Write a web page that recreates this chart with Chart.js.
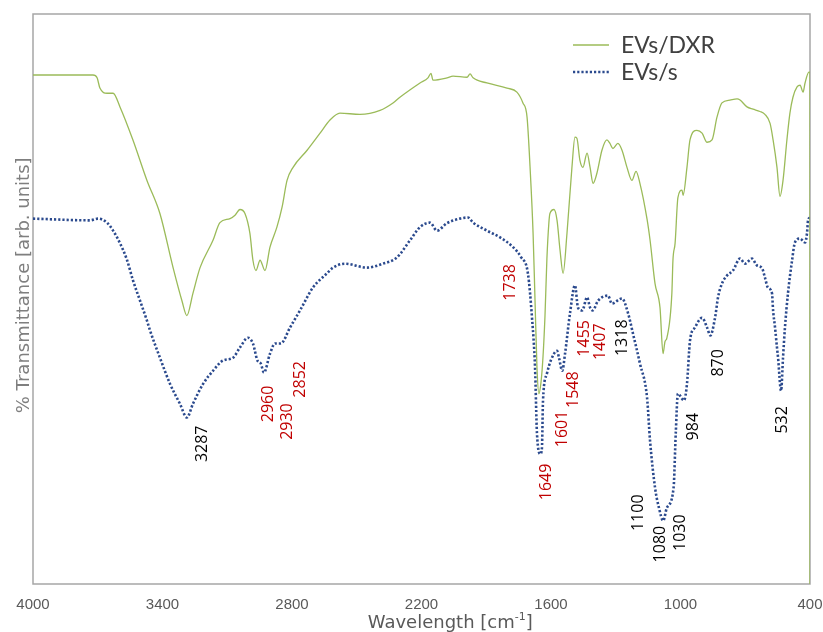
<!DOCTYPE html>
<html>
<head>
<meta charset="utf-8">
<title>FTIR – EVs/DXR vs EVs/s</title>
<script src="https://cdn.jsdelivr.net/npm/chart.js@4.4.1/dist/chart.umd.min.js"></script>
<style>
  html, body { margin: 0; padding: 0; background: #fff; }
  #wrap { width: 823px; height: 632px; position: relative; }
</style>
</head>
<body>
<div id="wrap"><canvas id="ftirChart"></canvas></div>
<script>
// wavenumbers [cm-1] and transmittance [arb. units] for each spectrum
var dxrWavenumber = [4000, 3875, 3722, 3703, 3690, 3657, 3629, 3597, 3537, 3472, 3412, 3351, 3310, 3287, 3259, 3226,
    3166, 3134, 3087, 3064, 3041, 3018, 2995, 2981, 2967, 2948, 2925, 2902, 2870, 2846, 2823, 2795, 2730, 2670, 2624,
    2578, 2485, 2392, 2332, 2300, 2207, 2170, 2156, 2147, 2082, 2054, 1989, 1975, 1961, 1897, 1804, 1758, 1730, 1711,
    1697, 1683, 1674, 1665, 1656, 1646, 1637, 1628, 1619, 1610, 1605, 1586, 1572, 1558, 1544, 1526, 1503, 1489, 1480,
    1466, 1452, 1433, 1419, 1405, 1387, 1364, 1341, 1327, 1313, 1290, 1271, 1248, 1225, 1206, 1188, 1155, 1141, 1118,
    1095, 1081, 1072, 1063, 1040, 1035, 1025, 1012, 993, 988, 970, 956, 924, 900, 877, 854, 831, 808, 771, 738, 724,
    692, 664, 632, 609, 585, 571, 553, 539, 525, 507, 493, 479, 460, 446, 432, 423, 405, 400, 400];
var dxrTransmittance = [89.3, 89.3, 89.3, 88.8, 87.0, 86.1, 86.1, 83.7, 77.9, 70.8, 65.0, 55.5, 49.7, 47.1, 51.0, 55.5,
    60.3, 63.4, 64.1, 64.7, 65.7, 65.0, 61.5, 56.8, 55.0, 56.8, 55.0, 59.1, 62.6, 66.1, 70.8, 73.1, 76.1, 79.1, 81.4,
    82.6, 82.4, 83.1, 84.4, 85.4, 87.9, 88.8, 89.6, 88.4, 88.8, 89.1, 88.9, 89.5, 88.8, 87.9, 87.0, 86.3, 84.4, 81.9,
    73.1, 61.5, 49.7, 38.0, 33.4, 35.5, 39.9, 46.9, 57.0, 63.3, 65.0, 65.7, 63.8, 58.5, 54.5, 61.5, 73.1, 78.4, 78.2,
    74.3, 73.1, 75.6, 73.1, 70.3, 72.1, 76.1, 77.9, 77.3, 76.4, 77.3, 76.1, 73.1, 70.8, 72.4, 70.3, 64.0, 60.3, 52.7,
    48.5, 40.4, 42.5, 43.2, 51.0, 56.8, 59.8, 67.8, 69.1, 68.2, 73.1, 77.9, 79.6, 79.1, 77.5, 77.9, 81.9, 84.4, 84.9, 85.1, 84.9,
    83.7, 83.3, 82.9, 82.4, 80.8, 77.9, 73.1, 68.0, 70.8, 77.9, 82.6, 85.4, 87.2, 87.5, 86.3, 87.9, 89.8, 89.8, 0];

var sWavenumber = [4000, 3736, 3699, 3657, 3629, 3597, 3564, 3537, 3504, 3472, 3458, 3412, 3365, 3319, 3287, 3259,
    3212, 3166, 3120, 3073, 3041, 3004, 2981, 2960, 2945, 2930, 2902, 2879, 2852, 2809, 2763, 2703, 2638, 2610, 2554,
    2453, 2378, 2314, 2253, 2207, 2161, 2128, 2082, 2022, 1985, 1961, 1897, 1836, 1776, 1738, 1707, 1688, 1674, 1665,
    1649, 1642, 1637, 1619, 1601, 1572, 1563, 1548, 1535, 1512, 1489, 1475, 1455, 1433, 1419, 1407, 1382, 1336, 1318,
    1271, 1243, 1220, 1188, 1155, 1141, 1118, 1100, 1080, 1063, 1032, 1022, 1012, 984, 970, 956, 933, 900, 877, 862,
    840, 826, 808, 785, 757, 724, 701, 669, 646, 622, 609, 595, 576, 571, 562, 553, 548, 534, 525, 516, 502, 483, 470,
    446, 423, 414, 409, 400];
var sTransmittance = [64.1, 63.8, 64.1, 63.4, 62.0, 59.8, 56.8, 53.3, 49.7, 46.2, 44.5, 39.7, 35.1, 31.6, 29.2, 31.6,
    35.1, 37.4, 39.2, 39.7, 41.5, 43.2, 42.2, 39.2, 38.7, 37.1, 40.4, 42.2, 42.2, 45.0, 48.0, 52.0, 54.5, 55.5, 56.2,
    55.5, 56.2, 57.3, 60.3, 62.6, 63.4, 62.0, 63.3, 64.1, 64.3, 63.4, 62.0, 60.8, 59.1, 57.3, 54.5, 46.7, 38.0, 26.4,
    22.8, 23.9, 32.2, 36.9, 39.2, 40.9, 39.7, 37.4, 40.4, 47.5, 52.4, 48.5, 48.0, 50.3, 48.5, 48.0, 49.7, 50.6, 49.2,
    50.1, 47.5, 43.9, 38.7, 32.7, 25.1, 16.9, 13.4, 11.1, 13.4, 16.9, 26.4, 33.4, 32.2, 35.1, 42.7, 45.0, 46.7, 45.0, 43.6,
    46.7, 50.3, 52.7, 54.1, 55.0, 57.1, 56.2, 57.1, 55.9, 55.4, 53.8, 52.0, 51.0, 48.0, 45.0, 41.5, 39.7, 33.9, 39.7,
    45.0, 51.0, 56.8, 59.9, 60.6, 59.9, 61.5, 63.8, 64.3];

var tickValues = [4000, 3400, 2800, 2200, 1600, 1000, 400];

// band assignments written next to the EVs/s trace (x in cm-1, y in arb. units)
var peakLabels = [
    { text: '3287', x: 3217, y: 24.6, red: false },
    { text: '2960', x: 2911, y: 31.6, red: true },
    { text: '2930', x: 2823, y: 28.5, red: true },
    { text: '2852', x: 2763, y: 35.9, red: true },
    { text: '1738', x: 1790, y: 52.9, red: true },
    { text: '1649', x: 1623, y: 17.9, red: true },
    { text: '1601', x: 1549, y: 27.2, red: true },
    { text: '1548', x: 1498, y: 34.1, red: true },
    { text: '1455', x: 1447, y: 43.1, red: true },
    { text: '1407', x: 1373, y: 42.5, red: true },
    { text: '1318', x: 1271, y: 43.2, red: false },
    { text: '1100', x: 1197, y: 12.5, red: false },
    { text: '1080', x: 1095, y: 7.0, red: false },
    { text: '1030', x: 998, y: 9.0, red: false },
    { text: '984', x: 942, y: 27.6, red: false },
    { text: '870', x: 826, y: 38.8, red: false },
    { text: '532', x: 530, y: 28.8, red: false }
];

var toPoints = function (xs, ys) {
    return xs.map(function (x, i) { return { x: x, y: ys[i] }; });
};

// frame, legend, peak numbers and axis titles
var decorations = {
    id: 'decorations',
    beforeDatasetsDraw: function (chart) {
        var a = chart.chartArea;
        var ctx = chart.ctx;
        ctx.save();
        ctx.strokeStyle = '#a6a6a6';
        ctx.lineWidth = 1.5;
        ctx.strokeRect(a.left, a.top, a.right - a.left, a.bottom - a.top);
        ctx.restore();
    },
    afterDatasetsDraw: function (chart) {
        var a = chart.chartArea;
        var ctx = chart.ctx;
        var xs = chart.scales.x;
        var ys = chart.scales.y;

        ctx.save();
        ctx.font = '16px "Open Sans"';
        ctx.textAlign = 'center';
        ctx.textBaseline = 'middle';
        peakLabels.forEach(function (p) {
            ctx.save();
            ctx.translate(xs.getPixelForValue(p.x), ys.getPixelForValue(p.y));
            ctx.rotate(-Math.PI / 2);
            ctx.fillStyle = p.red ? '#c00000' : '#000000';
            ctx.fillText(p.text, 0, 0);
            ctx.restore();
        });
        ctx.restore();

        // legend
        ctx.save();
        ctx.font = '23px Lato';
        ctx.textBaseline = 'middle';
        chart.data.datasets.forEach(function (ds, i) {
            var ly = a.top + 31 + i * 27;
            var lx = a.left + 540;
            ctx.save();
            ctx.strokeStyle = ds.borderColor;
            ctx.lineWidth = ds.borderWidth;
            ctx.setLineDash(ds.borderDash || []);
            ctx.beginPath();
            ctx.moveTo(lx, ly);
            ctx.lineTo(lx + 36, ly);
            ctx.stroke();
            ctx.restore();
            ctx.fillStyle = '#404040';
            ctx.fillText(ds.label, lx + 48, ly + 1);
        });
        ctx.restore();

        // y title
        ctx.save();
        ctx.fillStyle = '#7f7f7f';
        ctx.font = '18px "DejaVu Sans"';
        ctx.textAlign = 'center';
        ctx.textBaseline = 'middle';
        ctx.translate(24, a.top + (a.bottom - a.top) * 0.476);
        ctx.rotate(-Math.PI / 2);
        ctx.fillText('% Transmittance [arb. units]', 0, 0);
        ctx.restore();

        // x title with superscript
        ctx.save();
        ctx.fillStyle = '#595959';
        ctx.textBaseline = 'alphabetic';
        var main = '18px "DejaVu Sans"';
        var sup = '11px "DejaVu Sans"';
        ctx.font = main;
        var w1 = ctx.measureText('Wavelength [cm').width;
        var w3 = ctx.measureText(']').width;
        ctx.font = sup;
        var w2 = ctx.measureText('-1').width;
        var cx = a.left + (a.right - a.left) * 0.537;
        var tx = cx - (w1 + w2 + w3) / 2;
        var ty = a.bottom + 44;
        ctx.font = main;
        ctx.fillText('Wavelength [cm', tx, ty);
        ctx.font = sup;
        ctx.fillText('-1', tx + w1, ty - 8);
        ctx.font = main;
        ctx.fillText(']', tx + w1 + w2, ty);
        ctx.restore();
    }
};

var ctx = document.getElementById('ftirChart').getContext('2d');
var chart = new Chart(ctx, {
    type: 'line',
    data: {
        datasets: [{
            label: 'EVs/DXR',
            data: toPoints(dxrWavenumber, dxrTransmittance),
            borderColor: '#9bbb59',
            borderWidth: 1.3,
            pointRadius: 0,
            cubicInterpolationMode: 'monotone',
            fill: false
        }, {
            label: 'EVs/s',
            data: toPoints(sWavenumber, sTransmittance),
            borderColor: '#2b4a8e',
            borderWidth: 2.6,
            borderDash: [2.2, 2],
            pointRadius: 0,
            cubicInterpolationMode: 'monotone',
            fill: false
        }]
    },
    options: {
        responsive: true,
        maintainAspectRatio: false,
        animation: false,
        devicePixelRatio: 1,
        layout: { padding: { left: 33, top: 14, right: 13, bottom: 6 } },
        plugins: {
            legend: { display: false },
            tooltip: { enabled: false }
        },
        scales: {
            x: {
                type: 'linear',
                reverse: true,
                min: 400,
                max: 4000,
                grid: { display: false, drawTicks: false },
                border: { display: false },
                afterBuildTicks: function (scale) {
                    scale.ticks = tickValues.map(function (v) { return { value: v }; });
                },
                // keep the end labels from shrinking the plot
                afterFit: function (scale) {
                    scale.paddingLeft = 0;
                    scale.paddingRight = 0;
                },
                ticks: {
                    padding: 12,
                    maxRotation: 0,
                    color: '#595959',
                    font: { family: 'Liberation Sans', size: 15 },
                    callback: function (value) { return String(value); }
                }
            },
            y: {
                display: false,
                min: 0,
                max: 100
            }
        }
    },
    plugins: [decorations]
});
</script>
</body>
</html>
